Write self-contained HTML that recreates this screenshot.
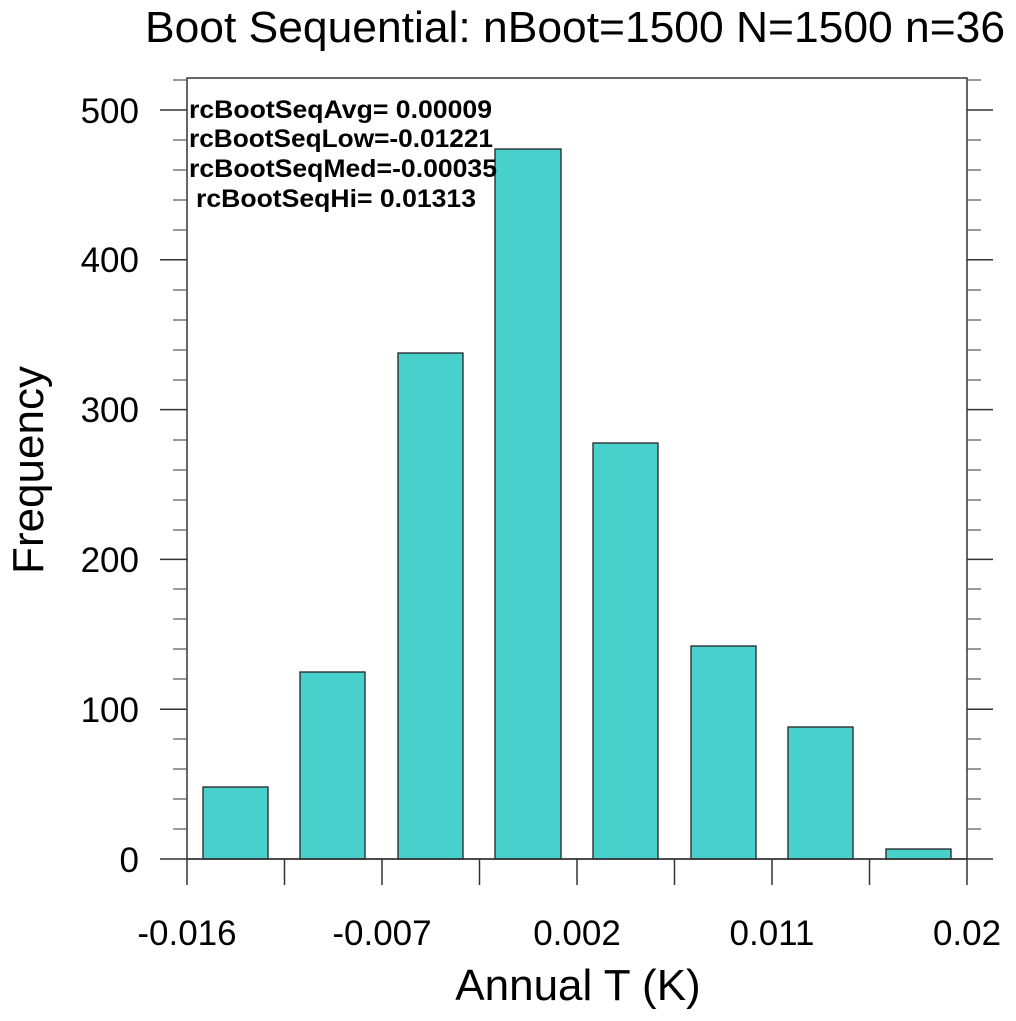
<!DOCTYPE html>
<html><head><style>body{margin:0;background:#fff}</style></head><body>
<svg width="1016" height="1016" xmlns="http://www.w3.org/2000/svg" font-family="Liberation Sans, sans-serif">
<rect width="1016" height="1016" fill="#fff"/>
<text x="575" y="42" font-size="44" text-anchor="middle" textLength="860" lengthAdjust="spacingAndGlyphs">Boot Sequential: nBoot=1500 N=1500 n=36</text>
<g fill="#48d1cc" stroke="#222" stroke-width="1.3">
<rect x="203" y="787" width="65" height="72"/>
<rect x="300" y="672" width="65" height="187"/>
<rect x="398" y="353" width="65" height="506"/>
<rect x="495" y="149" width="66" height="710"/>
<rect x="593" y="443" width="65" height="416"/>
<rect x="691" y="646" width="65" height="213"/>
<rect x="788" y="727" width="65" height="132"/>
<rect x="886" y="849" width="65" height="10"/>
</g>
<rect x="187" y="78" width="780" height="781" fill="none" stroke="#333" stroke-width="1.5"/>
<g stroke="#333" stroke-width="1.5">
<line x1="160" y1="859" x2="993" y2="859"/>
<line x1="160" y1="709.2" x2="187" y2="709.2"/><line x1="967" y1="709.2" x2="993" y2="709.2"/>
<line x1="160" y1="559.4" x2="187" y2="559.4"/><line x1="967" y1="559.4" x2="993" y2="559.4"/>
<line x1="160" y1="409.6" x2="187" y2="409.6"/><line x1="967" y1="409.6" x2="993" y2="409.6"/>
<line x1="160" y1="259.8" x2="187" y2="259.8"/><line x1="967" y1="259.8" x2="993" y2="259.8"/>
<line x1="160" y1="110" x2="187" y2="110"/><line x1="967" y1="110" x2="993" y2="110"/>
</g>
<g stroke="#555" stroke-width="1.2">
<line x1="173" y1="829" x2="187" y2="829"/><line x1="967" y1="829" x2="981" y2="829"/>
<line x1="173" y1="799" x2="187" y2="799"/><line x1="967" y1="799" x2="981" y2="799"/>
<line x1="173" y1="769" x2="187" y2="769"/><line x1="967" y1="769" x2="981" y2="769"/>
<line x1="173" y1="739" x2="187" y2="739"/><line x1="967" y1="739" x2="981" y2="739"/>
<line x1="173" y1="679" x2="187" y2="679"/><line x1="967" y1="679" x2="981" y2="679"/>
<line x1="173" y1="649" x2="187" y2="649"/><line x1="967" y1="649" x2="981" y2="649"/>
<line x1="173" y1="619" x2="187" y2="619"/><line x1="967" y1="619" x2="981" y2="619"/>
<line x1="173" y1="589" x2="187" y2="589"/><line x1="967" y1="589" x2="981" y2="589"/>
<line x1="173" y1="530" x2="187" y2="530"/><line x1="967" y1="530" x2="981" y2="530"/>
<line x1="173" y1="500" x2="187" y2="500"/><line x1="967" y1="500" x2="981" y2="500"/>
<line x1="173" y1="470" x2="187" y2="470"/><line x1="967" y1="470" x2="981" y2="470"/>
<line x1="173" y1="440" x2="187" y2="440"/><line x1="967" y1="440" x2="981" y2="440"/>
<line x1="173" y1="380" x2="187" y2="380"/><line x1="967" y1="380" x2="981" y2="380"/>
<line x1="173" y1="350" x2="187" y2="350"/><line x1="967" y1="350" x2="981" y2="350"/>
<line x1="173" y1="320" x2="187" y2="320"/><line x1="967" y1="320" x2="981" y2="320"/>
<line x1="173" y1="290" x2="187" y2="290"/><line x1="967" y1="290" x2="981" y2="290"/>
<line x1="173" y1="230" x2="187" y2="230"/><line x1="967" y1="230" x2="981" y2="230"/>
<line x1="173" y1="200" x2="187" y2="200"/><line x1="967" y1="200" x2="981" y2="200"/>
<line x1="173" y1="170" x2="187" y2="170"/><line x1="967" y1="170" x2="981" y2="170"/>
<line x1="173" y1="140" x2="187" y2="140"/><line x1="967" y1="140" x2="981" y2="140"/>
<line x1="173" y1="80" x2="187" y2="80"/><line x1="967" y1="80" x2="981" y2="80"/>
</g>
<g stroke="#333" stroke-width="1.5">
<line x1="187" y1="859" x2="187" y2="885"/><line x1="284.5" y1="859" x2="284.5" y2="885"/>
<line x1="382" y1="859" x2="382" y2="885"/><line x1="479.5" y1="859" x2="479.5" y2="885"/>
<line x1="577" y1="859" x2="577" y2="885"/><line x1="674.5" y1="859" x2="674.5" y2="885"/>
<line x1="772" y1="859" x2="772" y2="885"/><line x1="869.5" y1="859" x2="869.5" y2="885"/>
<line x1="967" y1="859" x2="967" y2="885"/>
</g>
<g font-size="35" text-anchor="end">
<text x="139" y="872">0</text><text x="139" y="722">100</text><text x="139" y="572">200</text>
<text x="139" y="422">300</text><text x="139" y="272">400</text><text x="139" y="123">500</text>
</g>
<g font-size="35" text-anchor="middle">
<text x="187" y="945">-0.016</text><text x="382" y="945">-0.007</text><text x="577" y="945">0.002</text>
<text x="772" y="945">0.011</text><text x="967" y="945">0.02</text>
</g>
<text x="578" y="1000" font-size="44" text-anchor="middle">Annual T (K)</text>
<text transform="translate(43,470) rotate(-90)" font-size="44" text-anchor="middle">Frequency</text>
<g font-size="25" font-weight="bold">
<text x="189" y="118" textLength="303" lengthAdjust="spacingAndGlyphs">rcBootSeqAvg= 0.00009</text>
<text x="189" y="147" textLength="304" lengthAdjust="spacingAndGlyphs">rcBootSeqLow=-0.01221</text>
<text x="189" y="177" textLength="308" lengthAdjust="spacingAndGlyphs">rcBootSeqMed=-0.00035</text>
<text x="196" y="207" textLength="280" lengthAdjust="spacingAndGlyphs">rcBootSeqHi= 0.01313</text>
</g>
</svg>
</body></html>
